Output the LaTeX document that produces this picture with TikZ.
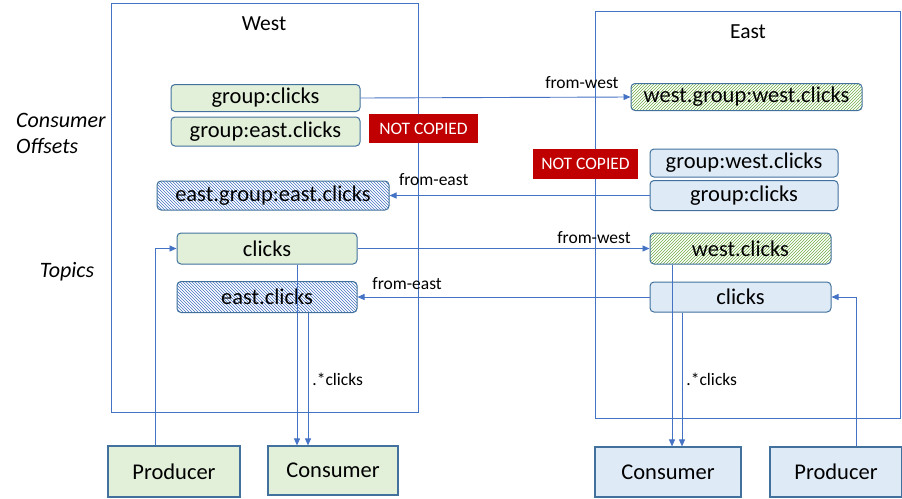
\documentclass[tikz,border=0pt]{standalone}
\usepackage{fontspec}
\setmainfont{Carlito}
\usetikzlibrary{arrows.meta,patterns}
\definecolor{lineblue}{HTML}{4472C4}
\definecolor{edgeblue}{HTML}{41719C}
\definecolor{westfill}{HTML}{E2F0D9}
\definecolor{eastfill}{HTML}{DEEBF7}
\definecolor{hatchgreen}{HTML}{70AD47}
\definecolor{hatchblue}{HTML}{4472C4}
\definecolor{notred}{HTML}{C00000}
\tikzset{
  topic/.style={draw=edgeblue, rounded corners=4pt, line width=1pt, inner sep=0pt,
    font=\fontsize{22.5}{26}\selectfont},
  westbox/.style={topic, fill=westfill},
  eastbox/.style={topic, fill=eastfill},
  westcopy/.style={topic, preaction={fill=white}, pattern=north east lines, pattern color=hatchgreen},
  eastcopy/.style={topic, preaction={fill=white}, pattern=north west lines, pattern color=hatchblue},
  client/.style={draw=edgeblue, line width=1.2pt, inner sep=0pt, font=\fontsize{22.5}{26}\selectfont},
  nocopy/.style={fill=notred, text=white, inner sep=0pt, font=\fontsize{17.5}{20}\selectfont},
  region/.style={draw=lineblue, line width=0.9pt},
  flow/.style={draw=lineblue, line width=0.9pt, -{Triangle[length=7pt,width=6pt]}},
  lbl/.style={inner sep=0pt, font=\fontsize{17.5}{20}\selectfont},
}
\begin{document}
\begin{tikzpicture}[x=1pt,y=-1pt]
  \useasboundingbox (0,0) rectangle (902,498);
  % data centres
  \draw[region] (111,3) rectangle (418,412);
  \draw[region] (595,11) rectangle (900,418);
  \node[font=\fontsize{21.5}{24}\selectfont] (westtitle) at (264,24) {West};
  \node[font=\fontsize{21.5}{24}\selectfont] (easttitle) at (748,32) {East};
  \node[align=left, anchor=west, inner sep=0pt, font=\fontsize{22}{26}\itshape] (offsetlbl) at (16,133) {Consumer\\Offsets};
  \node[font=\fontsize{22}{26}\itshape] (topiclbl) at (67,272) {Topics};

  % consumer offsets
  \node[westbox, minimum width=189, minimum height=27] (wgc) at (265.5,98) {group:clicks};
  \node[westbox, minimum width=189, minimum height=29] (wgec) at (265.5,131.5) {group:east.clicks};
  \node[nocopy, minimum width=109, minimum height=29] (wnc) at (423.5,128.5) {NOT COPIED};
  \node[eastcopy, minimum width=232, minimum height=29] (weg) at (273,195.5) {east.group:east.clicks};
  \node[westcopy, minimum width=231, minimum height=27] (ewg) at (746.5,97) {west.group:west.clicks};
  \node[nocopy, minimum width=105, minimum height=30] (enc) at (585.5,164) {NOT COPIED};
  \node[eastbox, minimum width=188, minimum height=28] (egw) at (744,163) {group:west.clicks};
  \node[eastbox, minimum width=188, minimum height=30] (egc) at (744,195.5) {group:clicks};

  % topics
  \node[westbox, minimum width=180, minimum height=31] (wclk) at (267,248.5) {clicks};
  \node[eastcopy, minimum width=180, minimum height=31] (weclk) at (267,297) {east.clicks};
  \node[westcopy, minimum width=181, minimum height=31] (ewclk) at (740.5,248.5) {west.clicks};
  \node[eastbox, minimum width=181, minimum height=30] (eclk) at (740.5,297) {clicks};

  % clients
  \node[client, fill=westfill, minimum width=132, minimum height=51] (wprod) at (174,471.5) {Producer};
  \node[client, fill=westfill, minimum width=130, minimum height=49] (wcons) at (333,470.5) {Consumer};
  \node[client, fill=eastfill, minimum width=146, minimum height=50] (econs) at (668,472) {Consumer};
  \node[client, fill=eastfill, minimum width=132, minimum height=50] (eprod) at (836,472) {Producer};

  % replication
  \draw[flow] (wgc.east) -- (ewg.west) node[lbl, pos=0.82, above=8pt] {from-west};
  \draw[flow] (egc.west) -- (weg.east) node[lbl, pos=0.83, above=9pt] {from-east};
  \draw[flow] (wclk.east) -- (ewclk.west) node[lbl, pos=0.81, above=4pt] {from-west};
  \draw[flow] (eclk.west) -- (weclk.east) node[lbl, pos=0.83, above=7pt] {from-east};

  % producers
  \draw[flow] ([xshift=-19]wprod.north) |- (wclk.west);
  \draw[flow] ([xshift=20]eprod.north) |- (eclk.east);

  % consumers
  \coordinate (wt1) at ([xshift=30]wclk.south);
  \coordinate (wt2) at ([xshift=41]weclk.south);
  \coordinate (et1) at ([xshift=-68.5]ewclk.south);
  \coordinate (et2) at ([xshift=-58.5]eclk.south);
  \draw[flow] (wt1) -- (wt1 |- wcons.north);
  \draw[flow] (wt2) -- (wt2 |- wcons.north) node[lbl, midway, right=4pt] {.*clicks};
  \draw[flow] (et1) -- (et1 |- econs.north);
  \draw[flow] (et2) -- (et2 |- econs.north) node[lbl, midway, right=4pt] {.*clicks};
\end{tikzpicture}
\end{document}
